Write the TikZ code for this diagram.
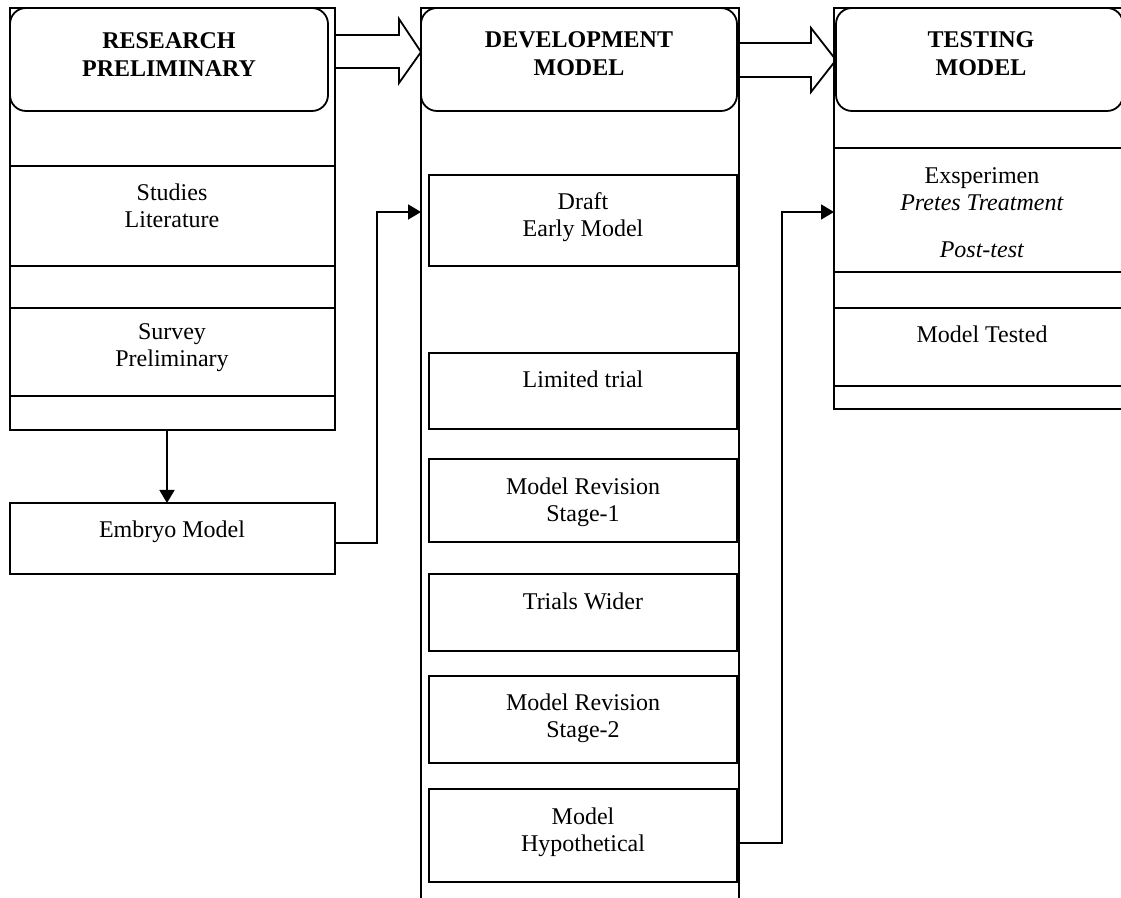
\documentclass[tikz,border=0pt]{standalone}
\usepackage{fontspec}
\setmainfont{Liberation Serif}
\usetikzlibrary{arrows.meta,fit,calc}
\begin{document}
\begin{tikzpicture}[x=0.5pt,y=-0.5pt,
  box/.style={draw,line width=0.9pt,rectangle,inner sep=0pt,outer sep=0pt},
  head/.style={draw,line width=0.9pt,rectangle,rounded corners=8pt,inner sep=0pt,outer sep=0pt},
  txt/.style={anchor=north,inner sep=0pt,align=center,font=\fontsize{12}{13.5}\selectfont},
  htxt/.style={anchor=north,inner sep=0pt,align=center,font=\fontsize{12}{14}\selectfont\bfseries},
  conn/.style={line width=0.9pt,-{Triangle[length=6.5pt,width=7.5pt]}},
  blockarrow/.style={draw,line width=0.9pt,line join=miter}]
\useasboundingbox (0,0) rectangle (1121,898);
\clip (0,0) rectangle (1121,898);

% ---- left column: research preliminary
\node[box,fit={(10,8) (335,430)}] (colA) {};
\node[head,fit={(10,8) (328,111)}] (headA) {};
\node[box,fit={(10,166) (335,266)}] (studies) {};
\node[box,fit={(10,308) (335,396)}] (survey) {};
\node[box,fit={(10,503) (335,574)}] (embryo) {};
\node[htxt] (tA) at (169,32) {RESEARCH\\PRELIMINARY};
\node[txt] (tStudies) at (172,183) {Studies\\Literature};
\node[txt] (tSurvey) at (172,323) {Survey\\Preliminary};
\node[txt] (tEmbryo) at (172,520) {Embryo Model};

% ---- middle column: development model
\node[box,fit={(421,8) (739,920)}] (colB) {};
\node[head,fit={(421,8) (737,111)}] (headB) {};
\node[box,fit={(429,175) (737,266)}] (draft) {};
\node[box,fit={(429,353) (737,429)}] (limited) {};
\node[box,fit={(429,459) (737,542)}] (rev1) {};
\node[box,fit={(429,574) (737,651)}] (trials) {};
\node[box,fit={(429,676) (737,763)}] (rev2) {};
\node[box,fit={(429,789) (737,882)}] (hypo) {};
\node[htxt] (tB) at (579,31) {DEVELOPMENT\\MODEL};
\node[txt] (tDraft) at (583,192) {Draft\\Early Model};
\node[txt] (tLimited) at (583,370) {Limited trial};
\node[txt] (tRev1) at (583,477) {Model Revision\\Stage-1};
\node[txt] (tTrials) at (583,592) {Trials Wider};
\node[txt] (tRev2) at (583,693) {Model Revision\\Stage-2};
\node[txt] (tHypo) at (583,807) {Model\\Hypothetical};

% ---- right column: testing model
\node[box,fit={(834,8) (1135,409)}] (colC) {};
\node[head,fit={(836,8) (1123,111)}] (headC) {};
\node[box,fit={(834,148) (1135,272)}] (exper) {};
\node[box,fit={(834,308) (1135,386)}] (tested) {};
\node[htxt] (tC) at (981,31) {TESTING\\MODEL};
\node[txt] (tExper) at (982,167) {Exsperimen\\\textit{Pretes Treatment}\\[10pt]\textit{Post-test}};
\node[txt] (tTested) at (982,325) {Model Tested};

% ---- block arrows between columns
\draw[blockarrow] (colA.east |- 0,35) -- (399,35) -- (399,19) -- (headB.west |- 0,52)
  -- (399,83) -- (399,68) -- (colA.east |- 0,68);
\draw[blockarrow] (colB.east |- 0,43) -- (811,43) -- (811,28) -- (headC.west |- 0,60)
  -- (811,92) -- (811,77) -- (colB.east |- 0,77);

% ---- connectors
\coordinate (xA) at (167,0);
\coordinate (yE) at (0,543);
\coordinate (jA) at (377,212);
\coordinate (yH) at (0,843);
\coordinate (jB) at (782,212);
\draw[conn] (colA.south -| xA) -- (embryo.north -| xA);
\draw[conn] (embryo.east |- yE) -| (jA) -- (colB.west |- jA);
\draw[conn] (hypo.east |- yH) -| (jB) -- (colC.west |- jB);
\end{tikzpicture}
\end{document}
